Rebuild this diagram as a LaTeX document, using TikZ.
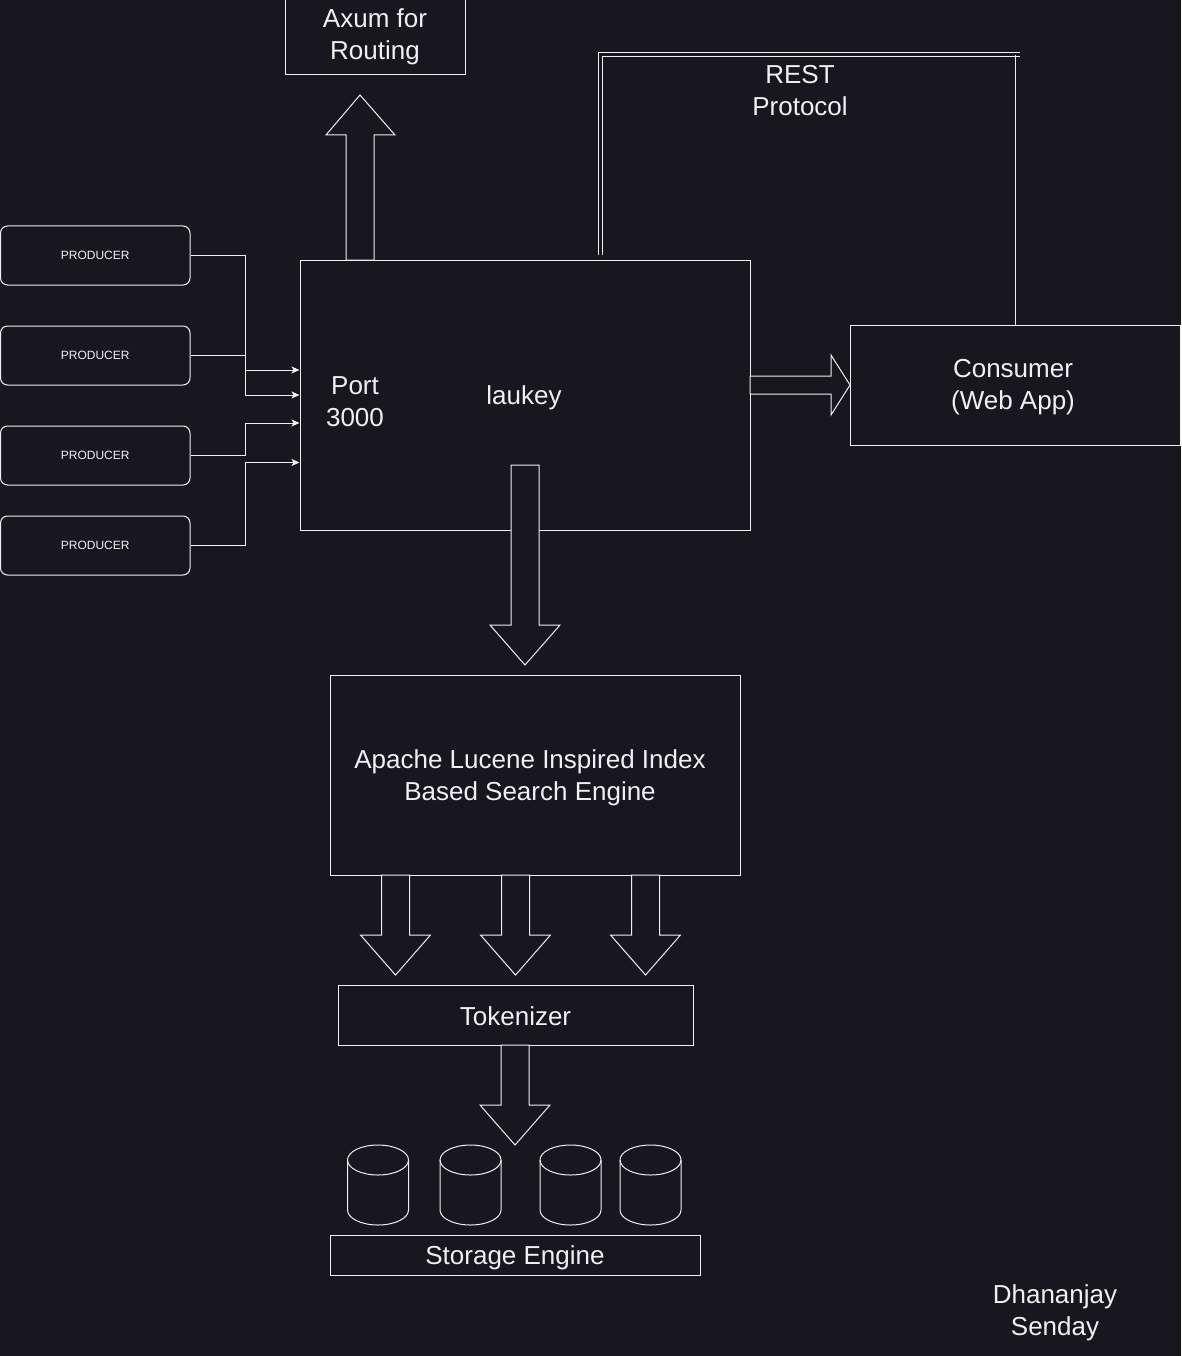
\documentclass[tikz,border=0pt]{standalone}
\usepackage{fontspec}
\setmainfont{Liberation Sans}
\usetikzlibrary{calc,arrows.meta}
\definecolor{bg}{RGB}{24,22,30}
\definecolor{ink}{RGB}{240,240,240}

% block arrow pointing down: centre x, top y, head base y, tip y
\newcommand\blockdown[4]{%
  \draw[blockarrow] (#1-14,#2) -- (#1-14,#3) -- (#1-35,#3) -- (#1,#4)
    -- (#1+35,#3) -- (#1+14,#3) -- (#1+14,#2) -- cycle;}
% storage cylinder: left x, top y
\newcommand\drum[2]{%
  \draw[line, fill=bg] (#1,#2+15) -- (#1,#2+65)
    arc[start angle=180, end angle=0, x radius=30.5, y radius=15]
    -- (#1+61,#2+15);
  \draw[line] (#1+30.5,#2+15) ellipse[x radius=30.5, y radius=15];}

\begin{document}
\begin{tikzpicture}[x=1pt, y=-1pt,
  line/.style={draw=ink, line width=1pt},
  box/.style={line, fill=bg, inner sep=0pt},
  label/.style={text=ink, align=center, inner sep=0pt, yshift=-2.5pt,
    font=\fontsize{26}{32}\selectfont},
  producer/.style={line, fill=bg, text=ink, rounded corners=7pt, inner sep=0pt,
    minimum width=189.5pt, minimum height=59pt, font=\fontsize{12}{14}\selectfont},
  feed/.style={line, -{Stealth[length=8pt, width=7pt, inset=2pt]}},
  blockarrow/.style={line, fill=bg, line join=miter},
  rest/.style={draw=ink, line width=1pt, double=bg, double distance=3pt}]

\fill[bg] (0,0) rectangle (1181,1356);
\useasboundingbox (0,0) rectangle (1181,1356);

% main service box
\node[box, minimum width=450pt, minimum height=270pt] (laukey) at (525,395) {};
\node[label] (lname) at (524,395) {laukey};
\node[label] (port) at (355,399) {Port\\3000};

% routing
\node[box, minimum width=180pt, minimum height=75pt] (axum) at (375,37.5) {};
\node[label] (axumlbl) at (375,34.5) {Axum for\\Routing};
\draw[blockarrow] (346,260) -- (346,135) -- (326,135) -- (360,95) -- (395,135)
  -- (374,135) -- (374,260) -- cycle;

% consumer
\node[box, minimum width=330pt, minimum height=120pt] (consumer) at (1015,385) {};
\node[label] (conslbl) at (1013,385) {Consumer\\(Web App)};
\draw[blockarrow] (750,376) -- (831,376) -- (831,355) -- (850,385) -- (831,415)
  -- (831,394) -- (750,394) -- cycle;

% REST link
\coordinate (r1) at (600,255);
\coordinate (r2) at (600,55);
\coordinate (r3) at (1020,55);
\draw[rest] (r1) -- (r2) -- (r3);
\draw[line] (consumer.north) -- (consumer.north |- r3);
\node[label] (restlbl) at (800,88.5) {REST\\Protocol};

% producers
\node[producer] (p1) at (95.25,255.5) {PRODUCER};
\node[producer] (p2) at (95.25,355.5) {PRODUCER};
\node[producer] (p3) at (95.25,455.5) {PRODUCER};
\node[producer] (p4) at (95.25,545.5) {PRODUCER};
\draw[feed] (p1.east) -- ++(55,0) |- (laukey.west);
\draw[feed] (p2.east) -- ++(55,0) |- ($(laukey.west)+(0,-25)$);
\draw[feed] (p3.east) -- ++(55,0) |- ($(laukey.west)+(0,28)$);
\draw[feed] (p4.east) -- ++(55,0) |- ($(laukey.west)+(0,67.5)$);

% search engine
\blockdown{525}{465}{625}{665}
\node[box, minimum width=410pt, minimum height=200pt] (engine) at (535,775) {};
\node[label] (enginelbl) at (530,775) {Apache Lucene Inspired Index\\Based Search Engine};

% tokenizer
\blockdown{395.5}{875}{935}{975}
\blockdown{515.5}{875}{935}{975}
\blockdown{645.5}{875}{935}{975}
\node[box, minimum width=355pt, minimum height=60pt] (tok) at (515.5,1015) {};
\node[label] (toklbl) at (515.5,1014) {Tokenizer};
\blockdown{515}{1045}{1105}{1145}

% storage
\drum{347.5}{1145}
\drum{440}{1145}
\drum{540}{1145}
\drum{620}{1145}
\node[box, minimum width=370pt, minimum height=40pt] (store) at (515,1255) {};
\node[label] (storelbl) at (515,1255) {Storage Engine};

% author
\node[label] (author) at (1055,1310) {Dhananjay\\Senday};
\end{tikzpicture}
\end{document}
